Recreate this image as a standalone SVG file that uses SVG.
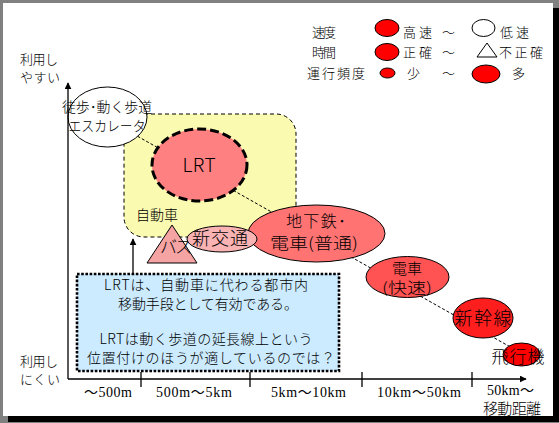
<svg xmlns="http://www.w3.org/2000/svg" width="559" height="423" viewBox="0 0 559 423">
<defs>
<style>
.jp{font-family:"Noto Sans CJK JP","Noto Sans",sans-serif;font-weight:300;fill:#000}
.sf{font-family:"Liberation Serif","Noto Sans CJK JP",serif;fill:#000}
.ol{stroke:#000;stroke-width:1}
.ax{stroke:#000;stroke-width:1.3;fill:none}
</style>
<marker id="ah" viewBox="0 0 10 10" refX="9" refY="5" markerWidth="7" markerHeight="7" markerUnits="userSpaceOnUse" orient="auto">
<path d="M0,0 L10,5 L0,10 z" fill="#000"/>
</marker>
</defs>
<!-- frame -->
<rect x="0" y="0" width="559" height="423" fill="#808080"/>
<rect x="8" y="8" width="551" height="414" fill="#000"/>
<rect x="3" y="3" width="550" height="413" fill="#fff"/>

<g id="car-zone">
<rect x="124" y="114" width="172" height="123" rx="20" ry="20" fill="#FAFAB0" stroke="#000" stroke-width="1" stroke-dasharray="4 3"/>
<text class="jp" x="157" y="220" font-size="14" text-anchor="middle">自動車</text>
</g>

<g id="connectors">
<line x1="107" y1="119" x2="521" y2="353" stroke="#000" stroke-width="1" stroke-dasharray="3 2"/>
<line x1="133" y1="273" x2="133" y2="239" stroke="#000" stroke-width="1.3" marker-end="url(#ah)"/>
</g>

<g id="walk">
<ellipse cx="107.5" cy="117" rx="39.5" ry="30" fill="#fff" class="ol"/>
<text class="jp" x="107" y="112" font-size="14" text-anchor="middle" textLength="90" lengthAdjust="spacingAndGlyphs">徒歩･動く歩道</text>
<text class="jp" x="107" y="131" font-size="14" text-anchor="middle" textLength="77" lengthAdjust="spacingAndGlyphs">エスカレータ</text>
</g>

<g id="lrt">
<ellipse cx="199.5" cy="165" rx="47.5" ry="36" fill="#FF8080" stroke="#000" stroke-width="3" stroke-dasharray="9 4"/>
<text class="jp" x="199" y="172" font-size="19" text-anchor="middle" textLength="33" lengthAdjust="spacing">LRT</text>
</g>

<g id="subway">
<ellipse cx="316.5" cy="233.5" rx="68.5" ry="28.5" fill="#FF7373" class="ol"/>
<text class="jp" x="316" y="227" font-size="16" text-anchor="middle" textLength="60" lengthAdjust="spacing">地下鉄･</text>
<text class="jp" x="314" y="249" font-size="16" text-anchor="middle" textLength="88" lengthAdjust="spacingAndGlyphs">電車(普通)</text>
</g>

<g id="newtransit">
<ellipse cx="222" cy="239" rx="35" ry="13" fill="#F9B3B3" class="ol"/>
<text class="jp" x="220" y="245" font-size="18" text-anchor="middle" textLength="56" lengthAdjust="spacing">新交通</text>
</g>

<g id="bus">
<polygon points="172,225 147,263 197,263" fill="#F5A3A3" class="ol"/>
<text class="jp" x="176" y="253" font-size="17" text-anchor="middle" textLength="32" lengthAdjust="spacing">バス</text>
</g>

<g id="rapid">
<ellipse cx="407.5" cy="277" rx="41.5" ry="20.5" fill="#FF5252" class="ol"/>
<text class="jp" x="407" y="274" font-size="15" text-anchor="middle">電車</text>
<text class="jp" x="407" y="293" font-size="15" text-anchor="middle" textLength="50" lengthAdjust="spacingAndGlyphs">(快速)</text>
</g>

<g id="shinkansen">
<ellipse cx="483" cy="318" rx="30" ry="20" fill="#FF1E1E" class="ol"/>
<text class="jp" x="483" y="325" font-size="18" text-anchor="middle" textLength="57" lengthAdjust="spacing">新幹線</text>
</g>

<g id="airplane">
<ellipse cx="521.5" cy="354.5" rx="18.5" ry="11.5" fill="#FF0000" class="ol"/>
<text class="jp" x="518" y="363" font-size="17" text-anchor="middle" textLength="53" lengthAdjust="spacing">飛行機</text>
</g>

<g id="note">
<rect x="77" y="274" width="262" height="97" fill="#CCEBFF" stroke="#000" stroke-width="2.6" stroke-dasharray="2.6 1.6"/>
<text class="jp" x="206" y="290" font-size="14" text-anchor="middle" textLength="204" lengthAdjust="spacing">LRTは、自動車に代わる都市内</text>
<text class="jp" x="208" y="309" font-size="14" text-anchor="middle" textLength="180" lengthAdjust="spacing">移動手段として有効である。</text>
<text class="jp" x="206" y="344" font-size="14" text-anchor="middle" textLength="213" lengthAdjust="spacing">LRTは動く歩道の延長線上という</text>
<text class="jp" x="211" y="363" font-size="14" text-anchor="middle" textLength="248" lengthAdjust="spacing">位置付けのほうが適しているのでは？</text>
</g>

<g id="axes">
<line x1="68" y1="379" x2="68" y2="83" class="ax" marker-end="url(#ah)"/>
<line x1="68" y1="379" x2="526" y2="379" class="ax" marker-end="url(#ah)"/>
<line x1="141" y1="372" x2="141" y2="387" class="ax"/>
<line x1="250" y1="372" x2="250" y2="387" class="ax"/>
<line x1="362" y1="372" x2="362" y2="387" class="ax"/>
<line x1="472" y1="372" x2="472" y2="387" class="ax"/>
<text class="jp" x="20" y="64" font-size="13" textLength="38" lengthAdjust="spacing">利用し</text>
<text class="jp" x="20" y="82" font-size="13" textLength="40" lengthAdjust="spacing">やすい</text>
<text class="jp" x="20" y="366" font-size="13" textLength="38" lengthAdjust="spacing">利用し</text>
<text class="jp" x="20" y="384" font-size="13" textLength="40" lengthAdjust="spacing">にくい</text>
<text class="sf" x="84" y="397" font-size="14" textLength="48" lengthAdjust="spacing">～500m</text>
<text class="sf" x="156" y="397" font-size="14" textLength="76" lengthAdjust="spacing">500m～5km</text>
<text class="sf" x="271" y="397" font-size="14" textLength="75" lengthAdjust="spacing">5km～10km</text>
<text class="sf" x="377" y="397" font-size="14" textLength="84" lengthAdjust="spacing">10km～50km</text>
<text class="sf" x="487" y="395" font-size="14" textLength="47" lengthAdjust="spacing">50km～</text>
<text class="jp" x="483" y="414" font-size="15" textLength="58" lengthAdjust="spacing">移動距離</text>
</g>

<g id="legend">
<text class="jp" x="312" y="37" font-size="13" textLength="24" lengthAdjust="spacing">速度</text>
<ellipse cx="387" cy="28" rx="12" ry="8.5" fill="#FF0000" class="ol"/>
<text class="jp" x="403" y="37" font-size="13" textLength="29" lengthAdjust="spacing">高速</text>
<text class="jp" x="442" y="37" font-size="13">～</text>
<ellipse cx="483.5" cy="28" rx="11.5" ry="8.5" fill="#fff" class="ol"/>
<text class="jp" x="500" y="37" font-size="13" textLength="29" lengthAdjust="spacing">低速</text>

<text class="jp" x="312" y="57" font-size="13" textLength="24" lengthAdjust="spacing">時間</text>
<ellipse cx="387" cy="52" rx="12" ry="8.5" fill="#FF0000" class="ol"/>
<text class="jp" x="403" y="57" font-size="13" textLength="29" lengthAdjust="spacing">正確</text>
<text class="jp" x="442" y="57" font-size="13">～</text>
<polygon points="487,43 477,57 497,57" fill="#fff" class="ol"/>
<text class="jp" x="499" y="57" font-size="13" textLength="44" lengthAdjust="spacing">不正確</text>

<text class="jp" x="307" y="78" font-size="13" textLength="58" lengthAdjust="spacing">運行頻度</text>
<ellipse cx="387.5" cy="73" rx="7.5" ry="5" fill="#FF0000" class="ol"/>
<text class="jp" x="407" y="78" font-size="13">少</text>
<text class="jp" x="442" y="78" font-size="13">～</text>
<ellipse cx="486" cy="74" rx="14" ry="9" fill="#FF0000" class="ol"/>
<text class="jp" x="512" y="78" font-size="13">多</text>
</g>
</svg>
